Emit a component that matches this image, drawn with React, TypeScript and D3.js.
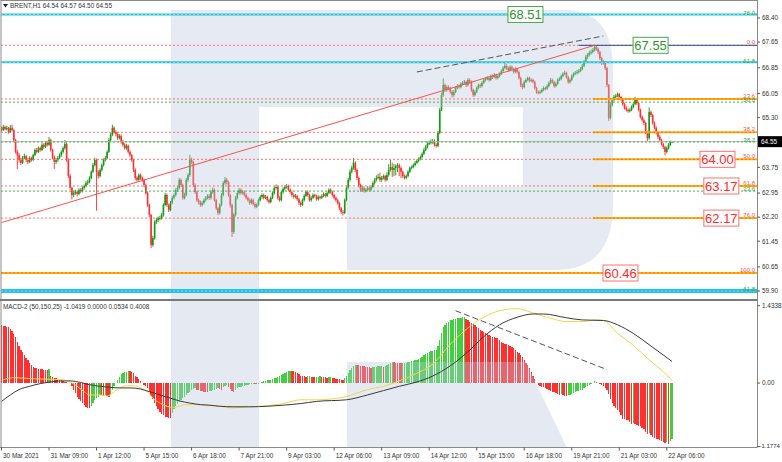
import React from "react";
import * as d3 from "d3";

// ---------------- DATA ----------------
const firstOpen = 64.95;
const closes = [
  64.91,65.01,64.94,64.98,64.85,64.98,64.91,64.60,64.23,64.13,
  63.98,63.89,64.04,64.10,63.98,63.92,64.04,63.98,64.13,64.29,
  64.23,64.35,64.29,64.45,64.38,64.51,64.45,64.60,64.29,64.07,
  63.92,63.98,64.04,64.13,64.23,64.35,64.48,63.98,63.48,63.11,
  62.89,62.95,62.98,62.92,63.05,63.01,63.11,63.17,63.26,63.29,
  63.42,63.61,63.82,63.98,63.61,63.48,63.67,63.82,63.98,64.04,
  64.23,64.60,64.76,64.98,64.85,64.79,64.66,64.73,64.54,64.45,
  64.35,64.42,64.23,64.13,63.98,63.67,63.42,63.36,63.51,63.42,
  63.36,63.20,62.95,62.58,62.27,61.33,61.55,62.05,62.11,62.17,
  62.17,62.27,62.58,62.89,62.58,62.42,62.64,62.80,62.89,63.05,
  63.11,63.36,63.20,62.80,62.89,63.36,63.51,63.98,63.92,63.20,
  62.98,62.73,62.67,62.58,62.64,62.73,62.80,62.86,62.80,62.98,
  63.05,62.73,62.48,62.33,62.58,62.89,63.26,63.36,63.29,62.89,
  62.58,61.74,62.27,62.80,62.95,63.05,62.95,62.98,62.89,62.80,
  62.73,62.64,62.73,62.61,62.52,62.58,62.73,62.83,62.89,62.80,
  62.83,62.73,62.67,62.80,62.95,63.11,63.14,62.80,62.73,62.98,
  63.08,63.14,63.17,63.05,62.98,62.89,62.83,62.86,62.76,62.64,
  62.58,62.73,62.86,62.98,62.89,62.73,62.80,62.89,62.86,62.76,
  62.83,62.80,62.86,62.92,62.86,62.95,63.05,62.98,62.89,62.80,
  62.73,62.64,62.48,62.36,62.33,62.73,63.11,63.36,63.61,63.73,
  63.89,63.67,63.42,63.20,63.05,63.11,63.01,63.05,63.11,63.05,
  63.14,63.26,63.36,63.42,63.45,63.36,63.42,63.48,63.36,63.51,
  63.67,63.76,63.67,63.73,63.79,63.82,63.73,63.61,63.48,63.42,
  63.48,63.61,63.73,63.76,63.82,63.89,63.95,64.01,64.07,64.17,
  64.29,64.38,64.48,64.51,64.54,64.57,64.45,64.42,64.82,65.54,
  66.00,66.31,66.16,66.25,66.22,66.10,66.00,66.10,66.22,66.28,
  66.25,66.35,66.38,66.41,66.31,66.47,66.41,66.16,66.00,66.10,
  66.22,66.31,66.28,66.38,66.47,66.50,66.53,66.47,66.59,66.56,
  66.62,66.53,66.59,66.66,66.75,66.84,66.91,66.84,66.78,66.87,
  66.81,66.72,66.81,66.72,66.53,66.31,66.25,66.41,66.47,66.53,
  66.44,66.47,66.41,66.22,66.10,66.07,66.10,66.16,66.22,66.20,
  66.28,66.38,66.47,66.41,66.28,66.35,66.47,66.50,66.59,66.66,
  66.69,66.56,66.41,66.47,66.59,66.66,66.69,66.72,66.75,66.81,
  66.91,67.03,67.19,67.25,67.31,67.34,67.40,67.50,67.43,67.34,
  67.15,67.00,67.03,66.84,66.31,65.29,65.69,65.85,65.94,65.97,
  66.03,65.94,65.85,65.72,65.60,65.54,65.50,65.54,65.63,65.72,
  65.85,65.75,65.54,65.32,65.22,65.13,64.85,64.66,65.47,65.38,
  65.13,64.98,64.82,64.70,64.60,64.48,64.38,64.23,64.35,64.45,
  64.54,64.55,
];
const highs = [
  65.02,65.07,65.05,65.04,65.01,65.07,65.08,64.95,64.64,64.30,
  64.20,64.05,64.10,64.18,64.14,64.05,64.10,64.08,64.18,64.34,
  64.36,64.40,64.40,64.50,64.50,64.56,64.58,64.70,64.64,64.33,
  64.12,64.05,64.10,64.18,64.28,64.40,64.60,64.52,64.03,63.55,
  63.15,63.02,63.05,63.03,63.10,63.10,63.16,63.22,63.32,63.36,
  63.47,63.66,63.88,64.05,64.02,63.66,63.72,63.87,64.03,64.10,
  64.28,64.66,64.82,65.08,65.03,64.90,64.84,64.78,64.77,64.60,
  64.50,64.48,64.46,64.28,64.17,64.02,63.72,63.48,63.56,63.56,
  63.47,63.40,63.24,63.00,62.62,62.30,61.62,62.10,62.18,62.22,
  62.24,62.33,62.63,62.96,62.93,62.62,62.70,62.86,62.94,63.10,
  63.17,63.42,63.40,63.24,62.96,63.42,63.57,64.14,64.05,63.96,
  63.25,63.02,62.78,62.72,62.70,62.78,62.85,62.91,62.92,63.04,
  63.12,63.09,62.77,62.52,62.63,62.95,63.32,63.45,63.42,63.33,
  62.93,62.62,62.33,62.86,63.01,63.11,63.10,63.04,63.03,62.94,
  62.85,62.78,62.79,62.77,62.66,62.63,62.78,62.88,62.94,62.93,
  62.89,62.87,62.78,62.85,63.00,63.16,63.22,63.18,62.85,63.03,
  63.13,63.19,63.23,63.21,63.09,63.03,62.94,62.92,62.90,62.80,
  62.69,62.78,62.91,63.03,63.03,62.93,62.85,62.94,62.93,62.90,
  62.88,62.87,62.91,62.97,62.96,63.00,63.10,63.09,63.02,62.93,
  62.84,62.77,62.68,62.52,62.42,62.78,63.16,63.42,63.68,63.80,
  64.04,63.94,63.72,63.46,63.24,63.17,63.16,63.10,63.16,63.15,
  63.19,63.31,63.41,63.50,63.55,63.58,63.48,63.53,63.52,63.60,
  63.85,63.98,63.90,63.85,63.84,63.88,63.87,63.78,63.65,63.53,
  63.53,63.66,63.78,63.81,63.87,63.94,64.00,64.06,64.12,64.22,
  64.35,64.44,64.54,64.58,64.62,64.64,64.62,64.50,64.88,65.60,
  66.08,66.52,66.36,66.30,66.30,66.26,66.15,66.15,66.27,66.34,
  66.33,66.40,66.44,66.47,66.45,66.53,66.52,66.45,66.20,66.15,
  66.27,66.36,66.36,66.43,66.52,66.56,66.59,66.58,66.64,66.64,
  66.68,66.66,66.64,66.71,66.80,66.90,67.00,66.96,66.89,66.93,
  66.92,66.85,66.86,66.85,66.76,66.57,66.36,66.46,66.52,66.58,
  66.57,66.52,66.51,66.45,66.26,66.14,66.15,66.21,66.27,66.26,
  66.33,66.43,66.53,66.51,66.45,66.40,66.52,66.56,66.64,66.71,
  66.76,66.73,66.60,66.52,66.64,66.71,66.75,66.78,66.81,66.87,
  66.97,67.09,67.25,67.31,67.38,67.42,67.47,67.55,67.54,67.48,
  67.38,67.19,67.09,67.07,66.88,66.35,65.75,65.91,66.00,66.03,
  66.08,66.07,65.98,65.89,65.76,65.65,65.58,65.59,65.68,65.77,
  65.94,65.89,65.79,65.58,65.37,65.27,65.17,64.89,65.62,65.52,
  65.42,65.18,65.03,64.86,64.75,64.64,64.52,64.42,64.40,64.50,
  64.58,64.57,
];
const lows = [
  64.86,64.88,64.90,64.90,64.80,64.83,64.87,64.55,64.18,63.70,
  63.90,63.82,63.85,64.00,63.92,63.85,63.88,63.93,63.95,64.10,
  64.18,64.20,64.24,64.26,64.33,64.35,64.40,64.42,64.24,64.00,
  63.70,63.85,63.92,64.00,64.08,64.18,64.30,63.92,63.42,63.05,
  62.75,62.82,62.90,62.85,62.88,62.95,62.97,63.06,63.12,63.20,
  63.25,63.38,63.57,63.78,62.40,63.40,63.43,63.62,63.78,63.93,
  64.00,64.20,64.55,64.72,64.80,64.72,64.60,64.62,64.48,64.40,
  64.30,64.30,64.18,64.08,63.92,63.60,63.36,63.30,63.31,63.36,
  63.30,63.14,62.90,62.52,62.20,61.24,61.28,61.50,61.98,62.05,
  62.10,62.12,62.22,62.54,62.52,62.36,62.38,62.60,62.75,62.84,
  63.00,63.06,63.14,62.74,62.75,62.85,63.30,63.46,63.85,63.14,
  62.92,62.67,62.60,62.52,62.53,62.59,62.68,62.75,62.74,62.75,
  62.93,62.68,62.42,62.26,62.28,62.54,62.85,63.21,63.22,62.83,
  62.50,61.58,61.68,62.22,62.75,62.90,62.90,62.90,62.84,62.75,
  62.68,62.58,62.60,62.56,62.47,62.48,62.54,62.69,62.78,62.75,
  62.76,62.68,62.62,62.63,62.76,62.90,63.06,62.74,62.68,62.69,
  62.93,63.03,63.09,63.00,62.93,62.84,62.78,62.78,62.71,62.58,
  62.52,62.54,62.69,62.82,62.84,62.68,62.68,62.76,62.81,62.71,
  62.72,62.75,62.76,62.82,62.81,62.82,62.91,62.93,62.84,62.75,
  62.68,62.59,62.42,62.30,62.25,62.29,62.69,63.06,63.31,63.56,
  63.68,63.60,63.36,63.12,62.98,63.00,62.96,62.97,63.00,63.00,
  63.01,63.10,63.21,63.31,63.38,63.30,63.30,63.37,63.30,63.32,
  63.46,63.62,63.45,63.48,63.50,63.60,63.48,63.42,63.42,63.37,
  63.38,63.44,63.57,63.69,63.72,63.78,63.85,63.91,63.97,64.03,
  64.13,64.25,64.34,64.44,64.46,64.48,64.40,64.36,64.38,64.78,
  65.50,65.95,66.10,66.10,66.15,66.04,65.92,65.95,66.06,66.18,
  66.20,66.21,66.30,66.34,66.25,66.27,66.35,66.10,65.94,65.96,
  66.06,66.18,66.22,66.24,66.34,66.42,66.46,66.42,66.44,66.50,
  66.52,66.48,66.49,66.55,66.62,66.71,66.80,66.78,66.72,66.74,
  66.76,66.67,66.68,66.67,66.48,66.25,66.18,66.21,66.37,66.43,
  66.39,66.40,66.36,66.17,66.04,66.02,66.03,66.06,66.12,66.15,
  66.16,66.24,66.34,66.36,66.23,66.24,66.31,66.43,66.46,66.55,
  66.62,66.51,66.35,66.36,66.43,66.55,66.62,66.64,66.67,66.71,
  66.77,66.87,66.99,67.12,67.20,67.26,67.30,67.36,67.38,67.28,
  67.09,66.94,66.95,66.78,66.25,65.20,65.24,65.64,65.80,65.89,
  65.93,65.89,65.80,65.67,65.55,65.49,65.45,65.46,65.50,65.59,
  65.68,65.70,65.49,65.27,65.17,65.07,64.79,64.57,64.61,65.32,
  65.08,64.93,64.77,64.64,64.55,64.43,64.32,64.12,64.18,64.31,
  64.41,64.50,
];

const macdHist = [
  1.07,1.06,1.05,1.04,1.03,1.01,0.97,0.91,0.85,0.76,
  0.68,0.62,0.57,0.52,0.47,0.42,0.37,0.33,0.30,0.28,
  0.27,0.265,0.26,0.255,0.25,0.24,0.235,0.26,0.13,0.11,
  0.095,0.085,0.07,0.06,0.05,0.035,0.025,0.015,0.008,0.002,
  -0.05,-0.12,-0.19,-0.25,-0.30,-0.34,-0.37,-0.41,-0.44,-0.46,
  -0.47,-0.43,-0.37,-0.32,-0.28,-0.25,-0.22,-0.23,-0.24,-0.22,
  -0.24,-0.25,-0.20,-0.13,-0.06,0.0,0.06,0.12,0.16,0.18,
  0.20,0.21,0.22,0.215,0.20,0.18,0.14,0.11,0.08,0.04,
  0.0,-0.03,-0.06,-0.10,-0.16,-0.24,-0.30,-0.37,-0.42,-0.48,
  -0.53,-0.57,-0.60,-0.62,-0.63,-0.64,-0.65,-0.55,-0.48,-0.43,
  -0.38,-0.35,-0.31,-0.28,-0.26,-0.22,-0.19,-0.16,-0.13,-0.11,
  -0.10,-0.12,-0.13,-0.14,-0.15,-0.16,-0.165,-0.17,-0.15,-0.14,
  -0.13,-0.12,-0.11,-0.10,-0.11,-0.12,-0.08,-0.06,-0.04,-0.08,
  -0.11,-0.14,-0.16,-0.12,-0.10,-0.08,-0.07,-0.06,-0.05,-0.04,
  -0.03,-0.02,-0.015,-0.01,-0.02,-0.025,-0.01,0.005,0.02,0.035,
  0.045,0.05,0.055,0.06,0.075,0.09,0.10,0.115,0.13,0.15,
  0.165,0.18,0.20,0.215,0.225,0.22,0.215,0.20,0.18,0.16,
  0.14,0.13,0.125,0.12,0.125,0.13,0.12,0.115,0.11,0.115,
  0.12,0.125,0.12,0.11,0.105,0.10,0.105,0.11,0.10,0.09,
  0.08,0.075,0.07,0.06,0.055,0.09,0.14,0.19,0.24,0.28,
  0.32,0.34,0.335,0.33,0.32,0.315,0.31,0.30,0.295,0.29,
  0.285,0.29,0.30,0.305,0.31,0.315,0.32,0.30,0.32,0.34,
  0.36,0.38,0.39,0.385,0.38,0.375,0.37,0.365,0.37,0.375,
  0.38,0.385,0.39,0.40,0.41,0.42,0.43,0.45,0.47,0.49,
  0.52,0.54,0.56,0.58,0.59,0.60,0.61,0.62,0.68,0.80,
  0.93,1.04,1.08,1.11,1.14,1.16,1.175,1.185,1.19,1.20,
  1.21,1.215,1.22,1.23,1.18,1.16,1.14,1.12,1.10,1.07,
  1.04,1.02,0.99,0.97,0.95,0.93,0.92,0.90,0.88,0.86,
  0.85,0.84,0.83,0.80,0.77,0.74,0.73,0.72,0.70,0.68,
  0.665,0.65,0.62,0.58,0.55,0.52,0.48,0.43,0.38,0.34,
  0.28,0.21,0.14,0.07,0.01,-0.03,-0.05,-0.07,-0.08,-0.10,
  -0.11,-0.13,-0.14,-0.16,-0.17,-0.19,-0.20,-0.22,-0.21,-0.22,
  -0.235,-0.24,-0.23,-0.22,-0.20,-0.19,-0.17,-0.15,-0.14,-0.13,
  -0.12,-0.10,-0.08,-0.05,-0.03,-0.01,0.01,0.04,0.02,0.005,
  -0.01,-0.03,-0.06,-0.09,-0.12,-0.20,-0.30,-0.37,-0.42,-0.46,
  -0.49,-0.53,-0.60,-0.66,-0.67,-0.68,-0.69,-0.72,-0.75,-0.74,
  -0.76,-0.77,-0.79,-0.80,-0.83,-0.86,-0.90,-0.94,-0.93,-0.97,
  -1.00,-1.02,-1.03,-1.04,-1.05,-1.07,-1.09,-1.11,-1.10,-1.12,
  -1.08,-1.04,
];

// black (slow) line of MACD-2, read at these bar indexes
const macdMainBars = [0,5,10,16,22,28,33,39,45,50,56,62,67,73,79,84,90,96,101,107,113,118,124,132,141,151,160,170,179,196,208,217,226,236,245,255,265,274,283,293,302,308,321,330,342,350,359,368,376,381];
const macdMainVals = [-0.34,-0.22,-0.12,-0.06,-0.01,0.02,0.04,0.04,0.01,-0.03,-0.06,-0.08,-0.09,-0.09,-0.11,-0.16,-0.22,-0.28,-0.33,-0.37,-0.40,-0.41,-0.43,-0.44,-0.44,-0.43,-0.41,-0.38,-0.34,-0.31,-0.22,-0.14,-0.06,0.02,0.13,0.32,0.58,0.86,1.08,1.22,1.28,1.28,1.21,1.17,1.16,1.08,0.92,0.71,0.52,0.40];
// yellow (signal) line
const macdSignalBars = [1,7,18,28,35,39,43,47,50,56,60,63,67,71,75,79,83,86,90,94,98,105,113,122,132,141,151,160,170,179,196,208,217,226,236,245,255,265,274,283,293,302,312,321,330,338,342,350,359,368,376,381];
const macdSignalVals = [0.06,0.10,0.08,0.07,0.06,0.02,-0.06,-0.16,-0.22,-0.22,-0.24,-0.19,-0.09,-0.05,-0.05,-0.09,-0.16,-0.28,-0.37,-0.43,-0.45,-0.40,-0.40,-0.42,-0.46,-0.44,-0.42,-0.38,-0.31,-0.31,-0.25,-0.12,-0.06,0.04,0.18,0.35,0.72,1.02,1.22,1.34,1.38,1.30,1.20,1.14,1.14,1.17,1.16,0.92,0.70,0.43,0.21,0.05];

const timeLabels = ["30 Mar 2021","31 Mar 09:00","1 Apr 12:00","5 Apr 15:00","6 Apr 18:00","7 Apr 21:00","9 Apr 03:00","12 Apr 06:00","13 Apr 09:00","14 Apr 12:00","15 Apr 15:00","16 Apr 18:00","19 Apr 21:00","21 Apr 03:00","22 Apr 06:00"];
const timeLabelBars = [0,27,54,81,108,135,162,189,216,243,270,297,324,351,378];

const priceTicks = [68.40,67.65,66.85,66.05,65.30,63.75,62.95,62.20,61.45,60.65,59.90];
const macdTicks = [1.4338, 0.0, -1.1774];
const macdTickLabels = ["1.4338","0.00","-1.1774"];

const fiboRedLabels = ["0.0","23.6","38.2","50.0","61.8","76.0","100.0"];
const fiboRedPrices = [67.55,65.88,64.84,64.00,63.17,62.17,60.46];
const fiboGreenLabels = ["76.0","61.8","50.0","38.2","23.6","61.8"];
const fiboGreenPrices = [68.51,67.02,65.78,64.54,63.01,59.90];

const tagPrices = [68.51,67.55,64.00,63.17,62.17,60.46];
const tagText = ["68.51","67.55","64.00","63.17","62.17","60.46"];

const redTrendBars = [0, 337];
const redTrendPrices = [62.03, 67.55];
const dashTrendBars = [236, 342];
const dashTrendPrices = [66.72, 67.84];
const macdTrendBars = [258, 344];
const macdTrendVals = [1.34, 0.25];

const lastPrice = 64.55;
const headerText = "BRENT,H1  64.54 64.57 64.50 64.55";
const macdTitle = "MACD-2 (50,150,25) -1.0419 0.0000 0.0534 0.4008";

// ---------------- LAYOUT / STYLE ----------------
const W = 782, H = 462;
const AXIS_X = 757.5;
const MAIN_BOTTOM = 299;
const MACD_BOTTOM = 447.5;
const FONT = "'Liberation Sans', Arial, sans-serif";
const BULL = "#129a12";
const BEAR = "#ff2e2e";
const HIST_UP = "#3fcf3f";
const HIST_DN = "#ff3030";
const tagXBar = [297.7, 368.8, 406.8, 409, 409, 351.7];
const tagColor = ["g", "g", "r", "r", "r", "r"];

export default function App() {
  const n = closes.length;
  const x = d3.scaleLinear().domain([0, n - 1]).range([1.5, 1.5 + (n - 1) * 1.76]);
  const y = d3.scaleLinear().domain([59.9, 68.4]).range([291, 18]);
  const ym = d3.scaleLinear().domain([-1.1774, 1.4338]).range([446.6, 305.7]);
  const opens = closes.map((c, i) => (i === 0 ? firstOpen : closes[i - 1]));

  const lineMain = d3.line<number>().x((d, i) => x(macdMainBars[i])).y((d) => ym(d)).curve(d3.curveMonotoneX);
  const lineSig = d3.line<number>().x((d, i) => x(macdSignalBars[i])).y((d) => ym(d)).curve(d3.curveMonotoneX);

  const fiboStart = x(336);
  const y0 = ym(0);

  return (
    <svg width={W} height={H} style={{ position: "fixed", left: 0, top: 0, background: "#fff" }} fontFamily={FONT}>
      <defs>
        <clipPath id="mainClip"><rect x={1} y={1} width={AXIS_X - 1} height={MAIN_BOTTOM - 1} /></clipPath>
        <clipPath id="macdClip"><rect x={1} y={301} width={AXIS_X - 1} height={MACD_BOTTOM - 301} /></clipPath>
      </defs>
      <rect x={0} y={0} width={W} height={H} fill="#fff" />

      {/* candles */}
      <g clipPath="url(#mainClip)">
        {closes.map((c, i) => {
          const o = opens[i];
          const col = c >= o ? BULL : BEAR;
          const cx = x(i);
          const yt = y(Math.max(o, c));
          const yb = y(Math.min(o, c));
          return (
            <g key={i}>
              <line x1={cx} x2={cx} y1={y(highs[i])} y2={y(lows[i])} stroke={col} strokeWidth={0.9} />
              <rect x={cx - 0.8} width={1.6} y={yt} height={Math.max(0.9, yb - yt)} fill={col} />
            </g>
          );
        })}
      </g>

      {/* MACD histogram */}
      <g clipPath="url(#macdClip)">
        {macdHist.map((v, i) => {
          const up = i > 0 && v > macdHist[i - 1];
          const yv = ym(v);
          return (
            <rect key={i} x={x(i) - 0.65} width={1.3} y={Math.min(yv, y0)} height={Math.abs(yv - y0)}
              fill={up ? HIST_UP : HIST_DN} shapeRendering="crispEdges" />
          );
        })}
      </g>

      {/* watermark overlay (main pane + sub-window part) */}
      <g fill="#b8c6dd" opacity={0.36}>
        <path fillRule="evenodd" d="M171,10 L565,10 Q613,10 613,70 L613,205 Q613,270 555,270 L347,270 L347,187 L259,187 L259,299 L171,299 Z M259,107 L523,107 L523,187 L259,187 Z" />
        <path d="M171,301 L259,301 L259,448 L171,448 Z M347,362 L526,362 L567,448 L347,448 Z" />
      </g>

      {/* MACD lines */}
      <g clipPath="url(#macdClip)" fill="none">
        <path d={lineSig(macdSignalVals) || ""} stroke="#f2d54a" strokeWidth={1} />
        <path d={lineMain(macdMainVals) || ""} stroke="#3a3a3a" strokeWidth={1} />
        <line x1={x(macdTrendBars[0])} y1={ym(macdTrendVals[0])} x2={x(macdTrendBars[1])} y2={ym(macdTrendVals[1])}
          stroke="#555" strokeWidth={1} strokeDasharray="6,3" />
      </g>

      {/* level lines */}
      <g clipPath="url(#mainClip)">
        <line x1={1} x2={AXIS_X} y1={y(lastPrice)} y2={y(lastPrice)} stroke="#bdbdbd" strokeWidth={1} />
        {fiboRedPrices.map((p, i) => (
          <line key={"rd" + i} x1={1} x2={AXIS_X} y1={y(p)} y2={y(p)} stroke="#ff5a5a" strokeWidth={1} strokeDasharray="2,2" opacity={0.85} />
        ))}
        {fiboGreenPrices.map((p, i) => {
          const cyan = fiboGreenLabels[i] === "76.0" || fiboGreenLabels[i] === "61.8";
          const thick = i === fiboGreenPrices.length - 1;
          return (
            <g key={"gd" + i}>
              {cyan && <line x1={1} x2={AXIS_X} y1={y(p)} y2={y(p)} stroke="#1ec3f2" strokeWidth={thick ? 4 : 2} />}
              <line x1={1} x2={AXIS_X} y1={y(p)} y2={y(p)} stroke={cyan ? "#b8e08a" : "#3aaa3a"} strokeWidth={1} strokeDasharray="2,2" opacity={cyan ? 0.8 : 0.9} />
            </g>
          );
        })}
        {fiboRedPrices.map((p, i) => {
          if (i === 0) return null;
          const full = i === fiboRedPrices.length - 1;
          return (
            <g key={"or" + i}>
              <line x1={full ? 1 : fiboStart} x2={AXIS_X} y1={y(p)} y2={y(p)} stroke="#ffb300" strokeWidth={2} />
              <line x1={full ? 1 : fiboStart} x2={AXIS_X} y1={y(p)} y2={y(p)} stroke="#ff4040" strokeWidth={1} strokeDasharray="2,2" opacity={0.7} />
            </g>
          );
        })}
        <line x1={x(328)} x2={AXIS_X} y1={y(fiboRedPrices[0])} y2={y(fiboRedPrices[0])} stroke="#1f4f8f" strokeWidth={1} />
        <line x1={x(redTrendBars[0])} y1={y(redTrendPrices[0])} x2={x(redTrendBars[1])} y2={y(redTrendPrices[1])} stroke="#ff5050" strokeWidth={1} />
        <line x1={x(dashTrendBars[0])} y1={y(dashTrendPrices[0])} x2={x(dashTrendBars[1])} y2={y(dashTrendPrices[1])} stroke="#555" strokeWidth={1} strokeDasharray="6,3" />
        {fiboRedPrices.map((p, i) => (
          <text key={"rl" + i} x={755} y={y(p) - 1} fontSize={6} textAnchor="end" fill="#ff5050">{fiboRedLabels[i]}</text>
        ))}
        {fiboGreenPrices.map((p, i) => (
          <text key={"gl" + i} x={755} y={y(p) + 0.2} fontSize={6} textAnchor="end" fill="#3aaa3a">{fiboGreenLabels[i]}</text>
        ))}
        {tagPrices.map((p, i) => {
          const cx = x(tagXBar[i]);
          const g = tagColor[i] === "g";
          return (
            <g key={"tag" + i}>
              <rect x={cx - 17.5} y={y(p) - 8} width={35} height={16} fill="#fff" stroke={g ? "#4aa54a" : "#ff7070"} strokeWidth={1} />
              <text x={cx} y={y(p) + 4.6} fontSize={13} textAnchor="middle" fill={g ? "#2f962f" : "#ff2a2a"}>{tagText[i]}</text>
            </g>
          );
        })}
      </g>

      {/* frames */}
      <g stroke="#8a8a8a" fill="none">
        <line x1={0.5} x2={AXIS_X} y1={0.5} y2={0.5} />
        <line x1={1} x2={1} y1={0} y2={MACD_BOTTOM} />
        <line x1={AXIS_X} x2={AXIS_X} y1={0} y2={MACD_BOTTOM} />
        <line x1={0} x2={AXIS_X} y1={300} y2={300} strokeWidth={2} stroke="#7a7a7a" />
        <line x1={0} x2={AXIS_X} y1={MACD_BOTTOM} y2={MACD_BOTTOM} />
      </g>

      <path d="M3,4 L8,4 L5.5,7.5 Z" fill="#222" />
      <text x={10} y={8.3} fontSize={6.4} fill="#333">{headerText}</text>
      <text x={3} y={308.5} fontSize={6.4} fill="#333">{macdTitle}</text>

      {/* right axis */}
      <g fontSize={6.4} fill="#333">
        {priceTicks.map((p, i) => (
          <g key={"pt" + i}>
            <line x1={AXIS_X} x2={AXIS_X + 2.5} y1={y(p)} y2={y(p)} stroke="#555" />
            <text x={762} y={y(p) + 2.3}>{p.toFixed(2)}</text>
          </g>
        ))}
        {macdTicks.map((v, i) => (
          <g key={"mt" + i}>
            <line x1={AXIS_X} x2={AXIS_X + 2.5} y1={ym(v)} y2={ym(v)} stroke="#555" />
            <text x={v < 0 ? 759.5 : 762} y={ym(v) + (v < 0 ? 1.2 : 2.3)} fontSize={v < 0 ? 6 : 6.4}>{macdTickLabels[i]}</text>
          </g>
        ))}
        <rect x={758} y={y(lastPrice) - 5.5} width={24} height={11} fill="#000" />
        <text x={761} y={y(lastPrice) + 2.3} fill="#fff">{lastPrice.toFixed(2)}</text>
      </g>

      {/* bottom axis */}
      <g fontSize={6.4} fill="#333">
        {timeLabelBars.map((b, i) => (
          <g key={"tl" + i}>
            <line x1={x(b)} x2={x(b)} y1={MACD_BOTTOM} y2={MACD_BOTTOM + 3} stroke="#555" />
            <text x={x(b) + 1.5} y={457.5}>{timeLabels[i]}</text>
          </g>
        ))}
      </g>
    </svg>
  );
}
